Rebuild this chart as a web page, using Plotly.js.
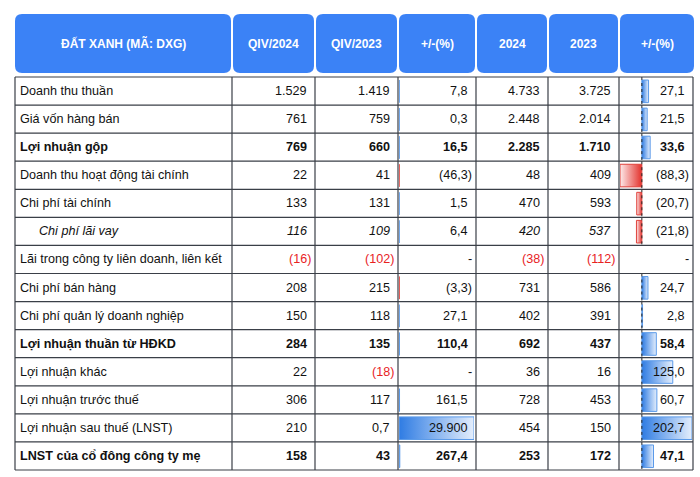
<!DOCTYPE html>
<html><head><meta charset="utf-8">
<script src="https://cdn.plot.ly/plotly-3.0.1.min.js"></script>
<style>html,body{margin:0;padding:0;background:#fff;}#chart{width:700px;height:477px;}</style>
</head><body><div id="chart"></div>
<script>
// ---------------- DATA ----------------
const headers = ["ĐẤT XANH (MÃ: DXG)", "QIV/2024", "QIV/2023", "+/-(%)", "2024", "2023", "+/-(%)"];
const labels = [
  "Doanh thu thuần", "Giá vốn hàng bán", "Lợi nhuận gộp", "Doanh thu hoạt động tài chính",
  "Chi phí tài chính", "Chi phí lãi vay", "Lãi trong công ty liên doanh, liên kết",
  "Chi phí bán hàng", "Chi phí quản lý doanh nghiệp", "Lợi nhuận thuần từ HĐKD",
  "Lợi nhuận khác", "Lợi nhuận trước thuế", "Lợi nhuận sau thuế (LNST)", "LNST của cổ đông công ty mẹ"
];
const q4_2024 = [1529, 761, 769, 22, 133, 116, -16, 208, 150, 284, 22, 306, 210, 158];
const q4_2023 = [1419, 759, 660, 41, 131, 109, -102, 215, 118, 135, -18, 117, 0.7, 43];
const chg_q   = [7.8, 0.3, 16.5, -46.3, 1.5, 6.4, null, -3.3, 27.1, 110.4, null, 161.5, 29900, 267.4];
const y2024   = [4733, 2448, 2285, 48, 470, 420, -38, 731, 402, 692, 36, 728, 454, 253];
const y2023   = [3725, 2014, 1710, 409, 593, 537, -112, 586, 391, 437, 16, 453, 150, 172];
const chg_y   = [27.1, 21.5, 33.6, -88.3, -20.7, -21.8, null, 24.7, 2.8, 58.4, 125.0, 60.7, 202.7, 47.1];
const boldRows = [2, 9, 13];
const italicRows = [5];
const indentRows = [5];

// ---------------- LAYOUT CONSTANTS ----------------
const W = 700, H = 477;
const colX = [15, 232, 315, 398, 476, 548, 619, 693];
const headBox = [[15,231],[233,314],[316,397],[399,475],[477,547],[549,618],[620,694]];
const headTop = 14, headBot = 73;
const bodyTop = 77, bodyBot = 470;
const nRows = labels.length;
const rowH = (bodyBot - bodyTop) / nRows;
const rowC = i => bodyTop + rowH * (i + 0.5);
const FONT = "Liberation Sans, Arial, sans-serif";
const FSIZE = 12.6;
const BLUE_HEAD = "#3b82f6";

function thou(n) { return n.toString().replace(/\B(?=(\d{3})+(?!\d))/g, "."); }
function fmtVal(v) {
  if (v === null) return "-";
  const a = Math.abs(v);
  const s = Number.isInteger(a) ? thou(a) : a.toFixed(1).replace(".", ",");
  return v < 0 ? "(" + s + ")" : s;
}
function fmtPct(v) {
  if (v === null) return "-";
  const a = Math.abs(v);
  const s = a >= 1000 ? thou(Math.round(a)) : a.toFixed(1).replace(".", ",");
  return v < 0 ? "(" + s + ")" : s;
}

function rr(x0, x1, y0, y1, r) {
  return `M${x0+r},${y0} L${x1-r},${y0} Q${x1},${y0} ${x1},${y0+r} L${x1},${y1-r} Q${x1},${y1} ${x1-r},${y1} L${x0+r},${y1} Q${x0},${y1} ${x0},${y1-r} L${x0},${y0+r} Q${x0},${y0} ${x0+r},${y0} Z`;
}

const shapes = [];
const annotations = [];

// header boxes + texts
headers.forEach((h, k) => {
  const [a, b] = headBox[k];
  shapes.push({type: "path", xref: "x", yref: "y", path: rr(a, b, headTop, headBot, 7),
    fillcolor: BLUE_HEAD, line: {width: 0}, layer: "below"});
  annotations.push({x: (a + b) / 2, y: (headTop + headBot) / 2, xref: "x", yref: "y", text: h,
    showarrow: false, xanchor: "center", yanchor: "middle",
    font: {family: FONT, size: 12, color: "#ffffff", weight: "bold"}});
});

// grid lines
for (let i = 0; i <= nRows; i++) {
  const y = bodyTop + rowH * i;
  shapes.push({type: "line", xref: "x", yref: "y", x0: colX[0], x1: colX[colX.length-1], y0: y, y1: y,
    line: {color: "#3a3f47", width: 1.2}, layer: "above"});
}
colX.forEach(x => {
  shapes.push({type: "line", xref: "x", yref: "y", x0: x, x1: x, y0: bodyTop, y1: bodyBot,
    line: {color: "#3a3f47", width: 1.2}, layer: "above"});
});

// label column
labels.forEach((lab, i) => {
  annotations.push({x: indentRows.includes(i) ? 37 : 18, y: rowC(i), xref: "x", yref: "y", text: lab,
    showarrow: false, xanchor: "left", yanchor: "middle",
    font: {family: FONT, size: FSIZE, color: "#111",
      weight: boldRows.includes(i) ? "bold" : "normal",
      style: italicRows.includes(i) ? "italic" : "normal"}});
});

// numeric columns
const series = [q4_2024, q4_2023, chg_q, y2024, y2023, chg_y];
const isPct = [false, false, true, false, false, true];
series.forEach((arr, c) => {
  const right = colX[c + 2];
  arr.forEach((v, i) => {
    const neg = v === null || v < 0;
    annotations.push({x: right - (neg ? 2 : 6), y: rowC(i), xref: "x", yref: "y",
      text: isPct[c] ? fmtPct(v) : fmtVal(v),
      showarrow: false, xanchor: "right", yanchor: "middle",
      font: {family: FONT, size: FSIZE,
        color: (!isPct[c] && v !== null && v < 0) ? "#e8231f" : "#111",
        weight: boldRows.includes(i) ? "bold" : "normal",
        style: (!isPct[c] && italicRows.includes(i)) ? "italic" : "normal"}});
  });
});

// ---------------- DATA BARS ----------------
const traces = [];
const barHalf = 11.3;
function addBars(arr, xaxis) {
  arr.forEach((v, i) => {
    if (v === null) return;
    const c = rowC(i) + 0.3;
    const pos = v >= 0;
    traces.push({
      type: "scatter", mode: "lines", xaxis: xaxis, yaxis: "y",
      x: [0, v, v, 0, 0],
      y: [c - barHalf, c - barHalf, c + barHalf, c + barHalf, c - barHalf],
      fill: "toself",
      fillgradient: pos
        ? {type: "horizontal", colorscale: [[0, "#2f7ce3"], [1, "#e4eefc"]]}
        : {type: "horizontal", colorscale: [[0, "#fdeaea"], [1, "#e3312c"]]},
      line: {color: pos ? "#5b9ae9" : "#e0403a", width: 1},
      hoverinfo: "skip", showlegend: false
    });
  });
}
addBars(chg_q, "x3");
addBars(chg_y, "x2");

// dotted axis in the last column
const ax = {x: [], y: []};
chg_y.forEach((v, i) => {
  if (v === null) return;
  ax.x.push(0, 0, null);
  ax.y.push(bodyTop + rowH * i, bodyTop + rowH * (i + 1), null);
});
traces.push({type: "scatter", mode: "lines", xaxis: "x2", yaxis: "y", x: ax.x, y: ax.y,
  line: {color: "#222", width: 1, dash: "dot"}, hoverinfo: "skip", showlegend: false});

const minY = Math.min(0, ...chg_y.filter(v => v !== null));
const maxY = Math.max(...chg_y.filter(v => v !== null));
const minQ = Math.min(0, ...chg_q.filter(v => v !== null));
const maxQ = Math.max(...chg_q.filter(v => v !== null));

const layout = {
  width: W, height: H, margin: {l: 0, r: 0, t: 0, b: 0},
  paper_bgcolor: "#ffffff", plot_bgcolor: "rgba(0,0,0,0)", showlegend: false,
  xaxis: {range: [0, W], visible: false, fixedrange: true},
  yaxis: {range: [H, 0], visible: false, fixedrange: true},
  xaxis2: {domain: [620 / W, 692 / W], range: [minY, maxY], visible: false, anchor: "y"},
  xaxis3: {domain: [399 / W, 474 / W], range: [minQ, maxQ], visible: false, anchor: "y"},
  shapes: shapes, annotations: annotations
};
Plotly.newPlot("chart", traces, layout, {displayModeBar: false, staticPlot: true});
</script></body></html>
